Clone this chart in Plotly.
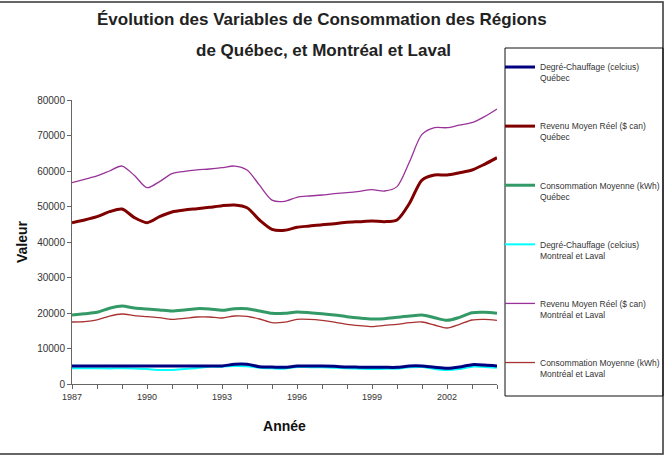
import plotly.graph_objects as go

years = [1987.0, 1987.5, 1988.0, 1988.5, 1989.0, 1989.5, 1990.0, 1990.5, 1991.0, 1991.5,
         1992.0, 1992.5, 1993.0, 1993.5, 1994.0, 1994.5, 1995.0, 1995.5, 1996.0, 1996.5,
         1997.0, 1997.5, 1998.0, 1998.5, 1999.0, 1999.5, 2000.0, 2000.5, 2001.0, 2001.5,
         2002.0, 2002.5, 2003.0, 2003.5, 2004.0]

deg_qc = [5080, 5060, 5090, 5070, 5050, 5080, 5060, 5070, 5090, 5070, 5060, 5080, 5100,
          5540, 5540, 4880, 4790, 4700, 5070, 5070, 5070, 4980, 4790, 4750, 4700, 4700,
          4700, 5070, 5070, 4700, 4420, 4790, 5450, 5350, 5070]
rev_qc = [45440, 46200, 47130, 48540, 49300, 46850, 45440, 47130, 48450, 49000, 49380,
          49770, 50230, 50420, 49660, 46200, 43580, 43300, 44140, 44500, 44880, 45160,
          45550, 45730, 45920, 45730, 46200, 50900, 57460, 58870, 58870, 59520, 60280,
          61890, 63750]
cons_qc = [19440, 19800, 20200, 21320, 21970, 21410, 21130, 20850, 20560, 20850, 21220,
           21130, 20750, 21220, 21220, 20560, 19910, 19910, 20280, 20090, 19800, 19440,
           18970, 18590, 18310, 18400, 18780, 19150, 19440, 18680, 17940, 18780, 20090,
           20200, 19910]
deg_mtl = [4410, 4410, 4420, 4400, 4410, 4380, 4200, 3940, 3950, 4220, 4500, 4880, 4880,
           5070, 4980, 4600, 4410, 4320, 4790, 4750, 4700, 4600, 4420, 4320, 4230, 4280,
           4320, 4700, 4790, 4230, 3950, 4230, 4880, 4790, 4600]
rev_mtl = [56700, 57660, 58600, 60000, 61400, 58700, 55300, 57000, 59250, 59900, 60300,
           60560, 60930, 61400, 60300, 56000, 51800, 51450, 52600, 52960, 53240, 53600,
           53900, 54280, 54740, 54370, 55600, 62600, 70300, 72200, 72200, 72950, 73600,
           75300, 77470]
cons_mtl = [17460, 17560, 18030, 19150, 19720, 19250, 18970, 18680, 18220, 18500, 18870,
            18870, 18590, 19150, 19060, 18310, 17270, 17400, 18220, 18220, 17940, 17460,
            16810, 16430, 16150, 16530, 16810, 17270, 17460, 16620, 15770, 16810, 18030,
            18220, 17940]

names = ["Degré-Chauffage (celcius)<br>Québec",
         "Revenu Moyen Réel ($ can)<br>Québec",
         "Consommation Moyenne (kWh)<br>Québec",
         "Degré-Chauffage (celcius)<br>Montreal et Laval",
         "Revenu Moyen Réel ($ can)<br>Montréal et Laval",
         "Consommation Moyenne (kWh)<br>Montréal et Laval"]

title_lines = ["Évolution des Variables de Consommation des Régions",
               "de Québec, et Montréal et Laval"]

# (values, name index, colour, width) in drawing order
series = [
    (deg_mtl, 3, "#00FFFF", 2),
    (cons_mtl, 5, "#A83232", 1.3),
    (rev_mtl, 4, "#993399", 1.3),
    (deg_qc, 0, "#000080", 3),
    (rev_qc, 1, "#800000", 3),
    (cons_qc, 2, "#339966", 3),
]

FONT = "Liberation Sans, Arial, sans-serif"

# plot area in pixels
L, R, T, B = 72, 497, 100, 384
W, H = R - L, B - T


def px(x):
    return (x - L) / W


def py(y):
    return (B - y) / H


fig = go.Figure()
for vals, idx, col, w in series:
    fig.add_trace(go.Scatter(
        x=years, y=vals, name=names[idx], mode="lines",
        line=dict(color=col, width=w, shape="spline", smoothing=0.8),
        legendrank=idx + 1, legendgroup=str(idx),
    ))

annotations = [
    dict(text="<b>%s</b>" % title_lines[0], xref="paper", yref="paper",
         x=px(322), y=py(20), xanchor="center", yanchor="middle", showarrow=False,
         font=dict(size=17, family=FONT, color="#222")),
    dict(text="<b>%s</b>" % title_lines[1], xref="paper", yref="paper",
         x=px(323), y=py(50), xanchor="center", yanchor="middle", showarrow=False,
         font=dict(size=17, family=FONT, color="#222")),
]

fig.update_layout(
    width=667, height=456,
    paper_bgcolor="white", plot_bgcolor="white",
    margin=dict(l=L, r=667 - R, t=T, b=456 - B, autoexpand=False),
    font=dict(family=FONT, color="#222"),
    annotations=annotations,
    showlegend=True,
    legend=dict(
        x=px(500), xanchor="left",
        y=py(55), yanchor="top",
        borderwidth=0, bgcolor="rgba(0,0,0,0)",
        font=dict(size=8.5, family=FONT, color="#333"),
        tracegroupgap=34, valign="top",
        traceorder="grouped", maxheight=400,
    ),
    xaxis=dict(
        range=[1987, 2004], tickmode="linear", tick0=1987, dtick=1, ticklabelstep=3,
        ticks="outside", ticklen=4, tickcolor="#666", showgrid=False, zeroline=False,
        showline=True, linecolor="#666", linewidth=1,
        tickfont=dict(size=9, color="#333"),
        title=dict(text="<b>Année</b>", font=dict(size=14, color="#111"), standoff=20),
    ),
    xaxis2=dict(
        overlaying="x", matches="x", anchor="y", side="bottom",
        range=[1987, 2004], tickmode="linear", tick0=1987, dtick=1,
        ticks="inside", ticklen=4, tickcolor="#666", showticklabels=False,
        showgrid=False, zeroline=False, showline=False,
    ),
    yaxis=dict(
        range=[0, 80000], tickmode="linear", tick0=0, dtick=10000,
        ticks="outside", ticklen=4, tickcolor="#666", showgrid=False, zeroline=False,
        showline=True, linecolor="#666", linewidth=1,
        tickfont=dict(size=10, color="#333"), tickformat="d",
        title=dict(text="<b>Valeur</b>", font=dict(size=14, color="#111"), standoff=6),
    ),
    shapes=[
        dict(type="rect", xref="paper", yref="paper",
             x0=px(-1), x1=px(663), y0=py(454), y1=py(2),
             line=dict(color="#333", width=1.5), fillcolor="rgba(0,0,0,0)",
             layer="below"),
        dict(type="rect", xref="paper", yref="paper",
             x0=px(505), x1=px(663), y0=py(396), y1=py(48),
             line=dict(color="#111", width=1), fillcolor="rgba(0,0,0,0)",
             layer="below"),
    ],
)

fig.write_html("out.html")
